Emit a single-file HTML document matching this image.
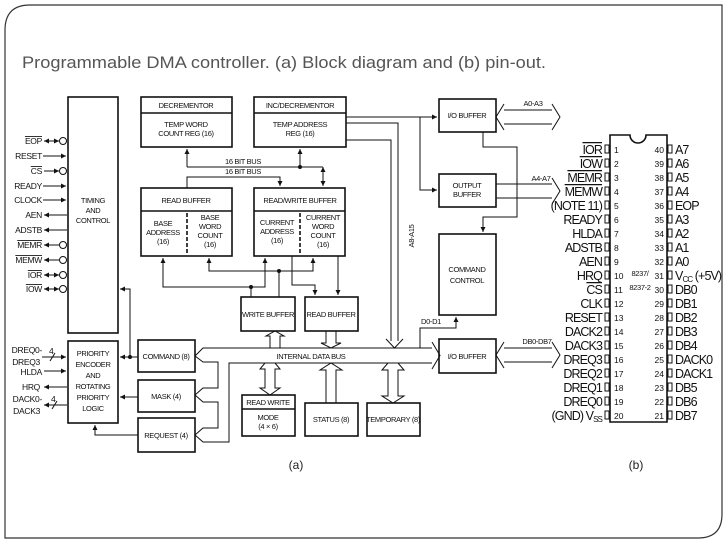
<!DOCTYPE html>
<html><head><meta charset="utf-8"><style>
html,body{margin:0;padding:0;background:#fff;}
svg{display:block;}
.t{font-family:"Liberation Sans",sans-serif;font-size:7.5px;fill:#111;letter-spacing:-0.35px;}
.s{font-family:"Liberation Sans",sans-serif;font-size:8.5px;fill:#111;letter-spacing:-0.3px;}
.p{font-family:"Liberation Sans",sans-serif;font-size:12.5px;fill:#111;letter-spacing:-0.9px;}
.n{font-family:"Liberation Sans",sans-serif;font-size:8.5px;fill:#111;}
.o{text-decoration:overline;}
</style></head><body>
<svg width="728" height="546" viewBox="0 0 728 546" xmlns="http://www.w3.org/2000/svg">
<defs>
<marker id="a" markerWidth="6" markerHeight="6" refX="5" refY="3" orient="auto-start-reverse" markerUnits="userSpaceOnUse"><path d="M0,0.5 L5,3 L0,5.5z" fill="#111"/></marker>
</defs>
<path d="M30,5 H722 V514 Q722,538 698,538 H5 V30 Q5,5 30,5 Z" fill="none" stroke="#333" stroke-width="1.2"/>
<text x="22" y="68" font-family="Liberation Sans,sans-serif" font-size="17" fill="#555" textLength="524" lengthAdjust="spacingAndGlyphs">Programmable DMA controller. (a) Block diagram and (b) pin-out.</text>

<g stroke="#111" fill="none" stroke-width="1.6">
<rect x="68" y="97" width="50" height="236"/>
<rect x="141" y="97" width="91" height="50"/><line x1="141" y1="113" x2="232" y2="113"/>
<rect x="254" y="97" width="92" height="50"/><line x1="254" y1="113" x2="346" y2="113"/>
<rect x="141" y="188" width="91" height="68"/><line x1="141" y1="211" x2="232" y2="211"/>
<rect x="254" y="188" width="91" height="68"/><line x1="254" y1="211" x2="345" y2="211"/>
<rect x="241" y="297" width="54" height="34"/>
<rect x="305" y="297" width="53" height="34"/>
<rect x="138" y="340" width="57" height="32"/>
<rect x="138" y="380" width="57" height="32"/>
<rect x="138" y="418" width="57" height="34"/>
<rect x="68" y="341" width="50" height="82"/>
<rect x="242" y="395" width="53" height="41"/><line x1="242" y1="409" x2="295" y2="409"/>
<rect x="305" y="403" width="53" height="33"/>
<rect x="367" y="403" width="53" height="33"/>
<rect x="439" y="99" width="57" height="33"/>
<rect x="439" y="174" width="57" height="33"/>
<rect x="439" y="234" width="57" height="81"/>
<rect x="439" y="339" width="57" height="34"/>
</g>
<g stroke="#111" stroke-width="1.6" stroke-dasharray="4,2"><line x1="187" y1="213" x2="187" y2="255"/><line x1="300" y1="213" x2="300" y2="255"/></g>

<g stroke="#111" fill="none" stroke-width="1">
<line x1="187" y1="149" x2="187" y2="167" marker-start="url(#a)"/>
<line x1="187" y1="167" x2="323" y2="167"/>
<line x1="300" y1="167" x2="300" y2="149" marker-end="url(#a)"/>
<line x1="323" y1="167" x2="323" y2="186" marker-start="url(#a)" marker-end="url(#a)"/>
<polyline points="187,188 187,177 280,177 280,186" marker-end="url(#a)"/>
<polyline points="163,258 163,287 265,287 265,258" marker-start="url(#a)" marker-end="url(#a)"/>
<line x1="251" y1="287" x2="251" y2="297"/>
<polyline points="209,258 209,271 313,271 313,258" marker-start="url(#a)" marker-end="url(#a)"/>
<line x1="279" y1="271" x2="279" y2="297"/>
<polyline points="292,256 292,285 315,285 315,295" marker-end="url(#a)"/>
<line x1="338" y1="256" x2="338" y2="295" marker-end="url(#a)"/>
<polyline points="346,117 437,117" marker-end="url(#a)"/>
<polyline points="420,117 420,190 437,190" marker-end="url(#a)"/>
<polyline points="346,123 398,123 398,341"/>
<polyline points="346,140 391,140 391,341"/>
<polyline points="386,339 394.5,348 403,339"/>
<polyline points="483,132 483,147 517,147 517,217 483,217 483,232" marker-end="url(#a)"/>
<polyline points="420,348 420,328 456,328 456,317" marker-end="url(#a)"/>
<polyline points="432,348 203,348 195,356 203,362 218,362 218,388 203,388 195,395 203,402 218,402 218,428 203,428 195,435 203,442 229,442 229,363 432,363"/>
<polyline points="432,342 440,355.5 432,369"/>
<polyline points="270,348 270,336 266,336 275,331 284,336 280,336 280,348"/>
<polyline points="326,331 326,343 321,343 331,348 341,343 336,343 336,331"/>
<polyline points="265,363 260,369 265,369 265,388 260,388 270,395 280,388 275,388 275,369 280,369 275,363"/>
<polyline points="326,403 326,370 320,370 331,363 342,370 336,370 336,403"/>
<polyline points="388,363 382,370 388,370 388,396 382,396 393,403 404,396 398,396 398,370 404,370 398,363"/>
<line x1="138" y1="357" x2="120" y2="357" marker-end="url(#a)"/>
<polyline points="130,357 130,289 120,289" marker-end="url(#a)"/>
<line x1="138" y1="397" x2="120" y2="397" marker-end="url(#a)"/>
<polyline points="138,435 95,435 95,425" marker-end="url(#a)"/>
<line x1="504" y1="110" x2="552" y2="110"/><line x1="504" y1="124" x2="552" y2="124"/>
<polyline points="504,104 496,117 504,130"/><polyline points="552,104 560,117 552,130"/>
<line x1="496" y1="184" x2="552" y2="184"/><line x1="496" y1="198" x2="552" y2="198"/>
<polyline points="552,178 560,191 552,204"/>
<line x1="504" y1="348" x2="552" y2="348"/><line x1="504" y1="362" x2="552" y2="362"/>
<polyline points="504,342 496,355 504,368"/><polyline points="552,342 560,355 552,368"/>
<line x1="44" y1="141" x2="59" y2="141" marker-start="url(#a)" marker-end="url(#a)"/><circle cx="63" cy="141" r="3.5"/>
<line x1="43" y1="156" x2="66" y2="156" marker-end="url(#a)"/>
<line x1="44" y1="171" x2="59" y2="171" marker-end="url(#a)"/><circle cx="63" cy="171" r="3.5"/>
<line x1="43" y1="186" x2="66" y2="186" marker-end="url(#a)"/>
<line x1="43" y1="200" x2="66" y2="200" marker-end="url(#a)"/>
<line x1="67" y1="215" x2="44" y2="215" marker-end="url(#a)"/>
<line x1="67" y1="230" x2="44" y2="230" marker-end="url(#a)"/>
<line x1="59" y1="245" x2="44" y2="245" marker-end="url(#a)"/><circle cx="63" cy="245" r="3.5"/>
<line x1="59" y1="260" x2="44" y2="260" marker-end="url(#a)"/><circle cx="63" cy="260" r="3.5"/>
<line x1="44" y1="275" x2="59" y2="275" marker-start="url(#a)" marker-end="url(#a)"/><circle cx="63" cy="275" r="3.5"/>
<line x1="44" y1="289" x2="59" y2="289" marker-start="url(#a)" marker-end="url(#a)"/><circle cx="63" cy="289" r="3.5"/>
<line x1="42" y1="357" x2="66" y2="357" marker-end="url(#a)"/><line x1="50" y1="361" x2="55" y2="353"/>
<line x1="44" y1="371" x2="66" y2="371" marker-end="url(#a)"/>
<line x1="67" y1="387" x2="44" y2="387" marker-end="url(#a)"/>
<line x1="67" y1="405" x2="44" y2="405" marker-end="url(#a)"/><line x1="52" y1="409" x2="57" y2="401"/>
<path d="M610,135 H630 A8,8 0 0 0 646,135 H667 V422 H610 Z" stroke-width="1.6"/>
</g>
<g fill="#111">
<circle cx="300" cy="167" r="2"/><circle cx="251" cy="287" r="2"/><circle cx="279" cy="271" r="2"/><circle cx="130" cy="357" r="2"/>
</g>

<g class="t" text-anchor="middle">
<text x="186" y="108">DECREMENTOR</text>
<text x="186" y="127">TEMP WORD</text><text x="186" y="136">COUNT REG (16)</text>
<text x="300" y="108">INC/DECREMENTOR</text>
<text x="300" y="127">TEMP ADDRESS</text><text x="300" y="136">REG (16)</text>
<text x="243" y="164">16 BIT BUS</text><text x="243" y="174">16 BIT BUS</text>
<text x="186" y="203">READ BUFFER</text>
<text x="163" y="226">BASE</text><text x="163" y="235">ADDRESS</text><text x="163" y="244">(16)</text>
<text x="210" y="220">BASE</text><text x="210" y="229">WORD</text><text x="210" y="238">COUNT</text><text x="210" y="247">(16)</text>
<text x="300" y="203">READ/WRITE BUFFER</text>
<text x="277" y="225">CURRENT</text><text x="277" y="234">ADDRESS</text><text x="277" y="243">(16)</text>
<text x="323" y="220">CURRENT</text><text x="323" y="229">WORD</text><text x="323" y="238">COUNT</text><text x="323" y="247">(16)</text>
<text x="268" y="317">WRITE BUFFER</text>
<text x="331" y="317">READ BUFFER</text>
<text x="93" y="203">TIMING</text><text x="93" y="213">AND</text><text x="93" y="223">CONTROL</text>
<text x="93" y="356">PRIORITY</text><text x="93" y="367">ENCODER</text><text x="93" y="378">AND</text><text x="93" y="389">ROTATING</text><text x="93" y="400">PRIORITY</text><text x="93" y="411">LOGIC</text>
<text x="166" y="359">COMMAND (8)</text>
<text x="166" y="399">MASK (4)</text>
<text x="166" y="438">REQUEST (4)</text>
<text x="311" y="359">INTERNAL DATA BUS</text>
<text x="268" y="405">READ WRITE</text><text x="268" y="420">MODE</text><text x="268" y="429">(4 × 6)</text>
<text x="331" y="422">STATUS (8)</text>
<text x="393" y="422">TEMPORARY (8)</text>
<text x="467" y="118">I/O BUFFER</text>
<text x="467" y="188">OUTPUT</text><text x="467" y="197">BUFFER</text>
<text x="467" y="272">COMMAND</text><text x="467" y="283">CONTROL</text>
<text x="467" y="359">I/O BUFFER</text>
<text x="533" y="106">A0-A3</text>
<text x="541" y="181">A4-A7</text>
<text x="537" y="344">DB0-DB7</text>
<text x="431" y="324">D0-D1</text>
<text x="0" y="0" transform="translate(414,236) rotate(-90)">A8-A15</text>
</g>
<g class="s" text-anchor="end">
<text x="42" y="144" class="o">EOP</text>
<text x="42" y="159">RESET</text>
<text x="42" y="174" class="o">CS</text>
<text x="42" y="189">READY</text>
<text x="42" y="203">CLOCK</text>
<text x="42" y="218">AEN</text>
<text x="42" y="233">ADSTB</text>
<text x="42" y="248" class="o">MEMR</text>
<text x="42" y="263" class="o">MEMW</text>
<text x="42" y="278" class="o">IOR</text>
<text x="42" y="292" class="o">IOW</text>
<text x="42" y="353">DREQ0-</text>
<text x="40" y="365">DREQ3</text>
<text x="42" y="375">HLDA</text>
<text x="40" y="390">HRQ</text>
<text x="42" y="402">DACK0-</text>
<text x="40" y="414">DACK3</text>
</g>
<g class="s"><text x="49" y="354">4</text><text x="51" y="402">4</text></g>
<g font-family="Liberation Sans,sans-serif" font-size="12" fill="#222" text-anchor="middle">
<text x="296" y="469">(a)</text><text x="636" y="469">(b)</text>
</g>

<g stroke="#111" stroke-width="1" fill="none">
<g id="pl">
<rect x="605" y="145" width="4" height="8"/><rect x="605" y="159" width="4" height="8"/><rect x="605" y="173" width="4" height="8"/><rect x="605" y="187" width="4" height="8"/><rect x="605" y="201" width="4" height="8"/><rect x="605" y="215" width="4" height="8"/><rect x="605" y="229" width="4" height="8"/><rect x="605" y="243" width="4" height="8"/><rect x="605" y="257" width="4" height="8"/><rect x="605" y="271" width="4" height="8"/><rect x="605" y="285" width="4" height="8"/><rect x="605" y="299" width="4" height="8"/><rect x="605" y="313" width="4" height="8"/><rect x="605" y="327" width="4" height="8"/><rect x="605" y="341" width="4" height="8"/><rect x="605" y="355" width="4" height="8"/><rect x="605" y="369" width="4" height="8"/><rect x="605" y="383" width="4" height="8"/><rect x="605" y="397" width="4" height="8"/><rect x="605" y="411" width="4" height="8"/>
</g>
<use href="#pl" x="63"/>
</g>
<g class="p" text-anchor="end">
<text x="602" y="154" class="o">IOR</text>
<text x="602" y="168" class="o">IOW</text>
<text x="602" y="182" class="o">MEMR</text>
<text x="602" y="196" class="o">MEMW</text>
<text x="602" y="210">(NOTE 11)</text>
<text x="602" y="224">READY</text>
<text x="602" y="238">HLDA</text>
<text x="602" y="252">ADSTB</text>
<text x="602" y="266">AEN</text>
<text x="602" y="280">HRQ</text>
<text x="602" y="294" class="o">CS</text>
<text x="602" y="308">CLK</text>
<text x="602" y="322">RESET</text>
<text x="602" y="336">DACK2</text>
<text x="602" y="350">DACK3</text>
<text x="602" y="364">DREQ3</text>
<text x="602" y="378">DREQ2</text>
<text x="602" y="392">DREQ1</text>
<text x="602" y="406">DREQ0</text>
<text x="602" y="420">(GND) V<tspan font-size="8" dy="2">SS</tspan></text>
</g>
<g class="p">
<text x="675" y="154">A7</text><text x="675" y="168">A6</text><text x="675" y="182">A5</text><text x="675" y="196">A4</text><text x="675" y="210">EOP</text><text x="675" y="224">A3</text><text x="675" y="238">A2</text><text x="675" y="252">A1</text><text x="675" y="266">A0</text><text x="675" y="280">V<tspan font-size="8" dy="2">CC</tspan><tspan dy="-2"> (+5V)</tspan></text><text x="675" y="294">DB0</text><text x="675" y="308">DB1</text><text x="675" y="322">DB2</text><text x="675" y="336">DB3</text><text x="675" y="350">DB4</text><text x="675" y="364">DACK0</text><text x="675" y="378">DACK1</text><text x="675" y="392">DB5</text><text x="675" y="406">DB6</text><text x="675" y="420">DB7</text>
</g>
<g class="n">
<text x="614" y="153">1</text><text x="614" y="167">2</text><text x="614" y="181">3</text><text x="614" y="195">4</text><text x="614" y="209">5</text><text x="614" y="223">6</text><text x="614" y="237">7</text><text x="614" y="251">8</text><text x="614" y="265">9</text><text x="614" y="279">10</text><text x="614" y="293">11</text><text x="614" y="307">12</text><text x="614" y="321">13</text><text x="614" y="335">14</text><text x="614" y="349">15</text><text x="614" y="363">16</text><text x="614" y="377">17</text><text x="614" y="391">18</text><text x="614" y="405">19</text><text x="614" y="419">20</text>
</g>
<g class="n" text-anchor="end">
<text x="664" y="153">40</text><text x="664" y="167">39</text><text x="664" y="181">38</text><text x="664" y="195">37</text><text x="664" y="209">36</text><text x="664" y="223">35</text><text x="664" y="237">34</text><text x="664" y="251">33</text><text x="664" y="265">32</text><text x="664" y="279">31</text><text x="664" y="293">30</text><text x="664" y="307">29</text><text x="664" y="321">28</text><text x="664" y="335">27</text><text x="664" y="349">26</text><text x="664" y="363">25</text><text x="664" y="377">24</text><text x="664" y="391">23</text><text x="664" y="405">22</text><text x="664" y="419">21</text>
</g>
<g class="t" text-anchor="middle"><text x="640" y="276">8237/</text><text x="640" y="290">8237-2</text></g>
</svg>
</body></html>
